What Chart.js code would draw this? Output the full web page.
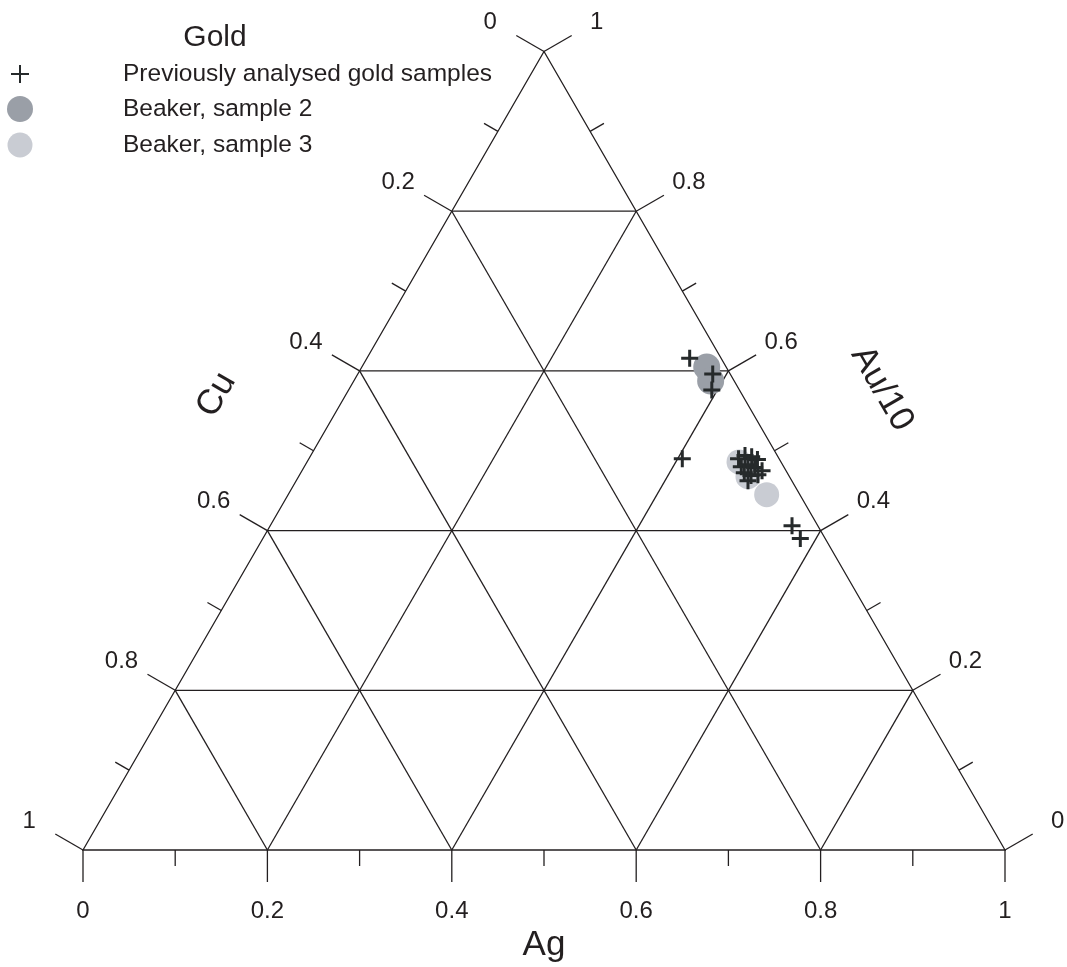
<!DOCTYPE html>
<html>
<head>
<meta charset="utf-8">
<script src="https://cdn.jsdelivr.net/npm/chart.js@4.4.0/dist/chart.umd.min.js"></script>
<style>
  html, body { margin: 0; padding: 0; background: #fff; }
  #wrap { width: 1067px; height: 967px; position: relative; }
</style>
</head>
<body>
<div id="wrap"><canvas id="c"></canvas></div>
<script>
// ---- Data (ternary compositions: Ag, Cu, Au/10) ----
const legendTitle = "Gold";
const axisNames = { ag: "Ag", cu: "Cu", au: "Au/10" };
const tickValues = [0, 0.1, 0.2, 0.3, 0.4, 0.5, 0.6, 0.7, 0.8, 0.9, 1];
const tickLabels = { 0: "0", 0.2: "0.2", 0.4: "0.4", 0.6: "0.6", 0.8: "0.8", 1: "1" };
const gridValues = [0.2, 0.4, 0.6, 0.8];

const seriesNames = ["Previously analysed gold samples", "Beaker, sample 2", "Beaker, sample 3"];

// previously analysed gold samples
const prevAg = [0.350, 0.385, 0.394, 0.405, 0.566, 0.583, 0.466, 0.471, 0.479, 0.487, 0.474, 0.480, 0.489, 0.499, 0.481, 0.490, 0.497, 0.490];
const prevAu = [0.616, 0.596, 0.576, 0.490, 0.406, 0.390, 0.490, 0.494, 0.4925, 0.489, 0.480, 0.4825, 0.479, 0.475, 0.4725, 0.469, 0.470, 0.4625];
// Beaker sample 2
const s2Ag = [0.374, 0.387];
const s2Au = [0.605, 0.5875];
// Beaker sample 3
const s3Ag = [0.4685, 0.4875, 0.519];
const s3Au = [0.486, 0.4675, 0.445];

const SQ3 = Math.sqrt(3) / 2;
// ternary (Ag, Au) -> cartesian (Cu = 1 - Ag - Au)
function tern(ag, au) { return { x: ag + au / 2, y: au * SQ3 }; }
function pts(agArr, auArr) { return agArr.map((a, i) => tern(a, auArr[i])); }

const LINE = '#231f20';
const FONT = '"Liberation Sans", Arial, Helvetica, sans-serif';
const COL2 = '#9a9fa7';
const COL3 = '#c9ccd3';
const CROSS = '#262a2b';

const ternaryPlugin = {
  id: 'ternary',
  beforeDatasetsDraw(chart) {
    const ctx = chart.ctx;
    const xs = chart.scales.x, ys = chart.scales.y;
    const P = (ag, au) => { const t = tern(ag, au); return [xs.getPixelForValue(t.x), ys.getPixelForValue(t.y)]; };
    ctx.save();
    ctx.strokeStyle = LINE;
    ctx.lineWidth = 1.3;
    ctx.lineCap = 'butt';
    const seg = (a, b) => { ctx.beginPath(); ctx.moveTo(a[0], a[1]); ctx.lineTo(b[0], b[1]); ctx.stroke(); };
    // outline
    const BL = P(0, 0), BR = P(1, 0), AP = P(0, 1);
    ctx.beginPath(); ctx.moveTo(BL[0], BL[1]); ctx.lineTo(BR[0], BR[1]); ctx.lineTo(AP[0], AP[1]); ctx.closePath(); ctx.stroke();
    // grid
    gridValues.forEach(v => {
      seg(P(0, v), P(1 - v, v));           // Au = v
      seg(P(v, 0), P(v, 1 - v));           // Ag = v
      seg(P(1 - v, 0), P(0, 1 - v));       // Cu = v
    });
    // ticks and labels
    ctx.fillStyle = '#231f20';
    ctx.font = '24px ' + FONT;
    ctx.textAlign = 'center';
    ctx.textBaseline = 'middle';
    const c60 = 0.866, s60 = 0.5;
    tickValues.forEach(v => {
      const major = tickLabels[v] !== undefined;
      const len = major ? 32 : 16;
      const key = Math.round(v * 10) / 10;
      // Ag axis (bottom)
      let p = P(v, 0);
      let e = [p[0], p[1] + len];
      seg(p, e);
      if (major) ctx.fillText(tickLabels[key], e[0], e[1] + 29);
      // Cu axis (left), Cu = v  -> Au = 1 - v, Ag = 0
      p = P(0, 1 - v);
      e = [p[0] - c60 * len, p[1] - s60 * len];
      seg(p, e);
      if (major) ctx.fillText(tickLabels[key], e[0] - 26, e[1] - 13);
      // Au axis (right), Au = v, Cu = 0
      p = P(1 - v, v);
      e = [p[0] + c60 * len, p[1] - s60 * len];
      seg(p, e);
      if (major) ctx.fillText(tickLabels[key], e[0] + 25, e[1] - 13);
    });
    // axis titles
    ctx.font = '35px ' + FONT;
    let m = P(0.5, 0);
    ctx.fillText(axisNames.ag, m[0], m[1] + 95);
    m = P(0, 0.5);
    ctx.save(); ctx.translate(m[0] - c60 * 112, m[1] - s60 * 112); ctx.rotate(-Math.PI / 3);
    ctx.fillText(axisNames.cu, 0, 0); ctx.restore();
    m = P(0.5, 0.5);
    ctx.save(); ctx.translate(m[0] + c60 * 124, m[1] - s60 * 124); ctx.rotate(Math.PI / 3);
    ctx.fillText(axisNames.au, 0, 0); ctx.restore();
    ctx.restore();
  },
  afterDraw(chart) {
    const ctx = chart.ctx;
    ctx.save();
    ctx.fillStyle = '#231f20';
    ctx.textBaseline = 'middle';
    ctx.textAlign = 'center';
    ctx.font = '30px ' + FONT;
    ctx.fillText(legendTitle, 215, 38);
    ctx.textAlign = 'left';
    ctx.font = '24.5px ' + FONT;
    const rows = [74, 109, 145];
    seriesNames.forEach((n, i) => ctx.fillText(n, 123, rows[i]));
    // markers
    ctx.strokeStyle = CROSS; ctx.lineWidth = 2;
    ctx.beginPath(); ctx.moveTo(11, rows[0]); ctx.lineTo(29, rows[0]); ctx.moveTo(20, rows[0] - 9); ctx.lineTo(20, rows[0] + 9); ctx.stroke();
    ctx.fillStyle = COL2; ctx.beginPath(); ctx.arc(20, rows[1], 13, 0, 2 * Math.PI); ctx.fill();
    ctx.fillStyle = COL3; ctx.beginPath(); ctx.arc(20, rows[2], 12.5, 0, 2 * Math.PI); ctx.fill();
    ctx.restore();
  }
};

new Chart(document.getElementById('c'), {
  type: 'scatter',
  data: {
    datasets: [
      { label: seriesNames[0], data: pts(prevAg, prevAu), pointStyle: 'cross', pointRadius: 8.5, borderColor: CROSS, backgroundColor: CROSS, pointBorderWidth: 3, order: 0, clip: false },
      { label: seriesNames[1], data: pts(s2Ag, s2Au), pointStyle: 'circle', pointRadius: 13.5, borderWidth: 0, pointBorderWidth: 0, backgroundColor: COL2, borderColor: COL2, order: 1, clip: false },
      { label: seriesNames[2], data: pts(s3Ag, s3Au), pointStyle: 'circle', pointRadius: 12.5, borderWidth: 0, pointBorderWidth: 0, backgroundColor: COL3, borderColor: COL3, order: 2, clip: false }
    ]
  },
  options: {
    responsive: true,
    maintainAspectRatio: false,
    animation: false,
    layout: { padding: 0, autoPadding: false },
    plugins: { legend: { display: false }, tooltip: { enabled: false } },
    scales: {
      x: { type: 'linear', display: false, min: -83 / 922, max: -83 / 922 + 1067 / 922 },
      y: { type: 'linear', display: false, max: 850 / 922, min: 850 / 922 - 967 / 922 }
    }
  },
  plugins: [ternaryPlugin]
});
</script>
</body>
</html>
